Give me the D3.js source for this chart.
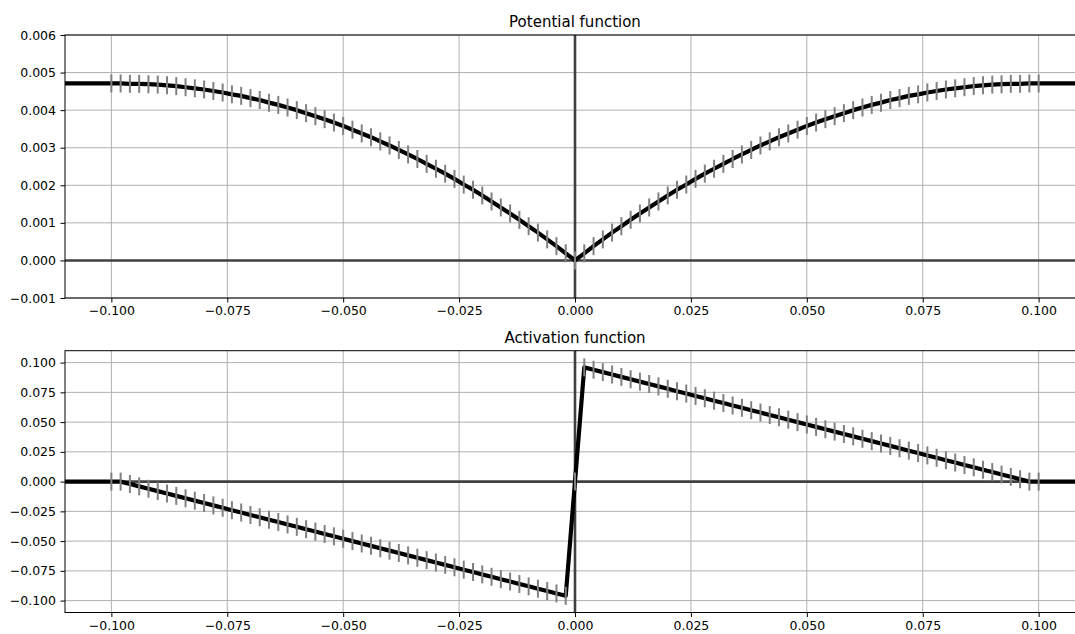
<!DOCTYPE html>
<html>
<head>
<meta charset="utf-8">
<script src="https://cdnjs.cloudflare.com/ajax/libs/d3/7.8.5/d3.min.js"></script>
<style>
    body { margin: 0; background: #fff; }
    svg { display: block; font-family: 'DejaVu Sans', sans-serif; }
</style>
</head>
<body>
<div id="chart"></div>
<script>
// sample points (x)
var x_values = [
    -0.110, -0.108, -0.106, -0.104, -0.102, -0.100, -0.098, -0.096, -0.094, -0.092,
    -0.090, -0.088, -0.086, -0.084, -0.082, -0.080, -0.078, -0.076, -0.074, -0.072,
    -0.070, -0.068, -0.066, -0.064, -0.062, -0.060, -0.058, -0.056, -0.054, -0.052,
    -0.050, -0.048, -0.046, -0.044, -0.042, -0.040, -0.038, -0.036, -0.034, -0.032,
    -0.030, -0.028, -0.026, -0.024, -0.022, -0.020, -0.018, -0.016, -0.014, -0.012,
    -0.010, -0.008, -0.006, -0.004, -0.002, 0.000,
    0.002, 0.004, 0.006, 0.008, 0.010, 0.012, 0.014, 0.016, 0.018, 0.020,
    0.022, 0.024, 0.026, 0.028, 0.030, 0.032, 0.034, 0.036, 0.038, 0.040,
    0.042, 0.044, 0.046, 0.048, 0.050, 0.052, 0.054, 0.056, 0.058, 0.060,
    0.062, 0.064, 0.066, 0.068, 0.070, 0.072, 0.074, 0.076, 0.078, 0.080,
    0.082, 0.084, 0.086, 0.088, 0.090, 0.092, 0.094, 0.096, 0.098, 0.100,
    0.102, 0.104, 0.106, 0.108, 0.110
];

// potential function values
var potential_values = [
    0.00471, 0.00471, 0.00471, 0.00471, 0.00471, 0.00471, 0.00471, 0.0047, 0.0047, 0.00469,
    0.00468, 0.00466, 0.00464, 0.00461, 0.00458, 0.00455, 0.00451, 0.00447, 0.00442, 0.00438,
    0.00432, 0.00427, 0.0042, 0.00414, 0.00407, 0.004, 0.00392, 0.00384, 0.00376, 0.00367,
    0.00358, 0.00348, 0.00338, 0.00328, 0.00317, 0.00306, 0.00294, 0.00282, 0.0027, 0.00257,
    0.00244, 0.00231, 0.00217, 0.00202, 0.00188, 0.00173, 0.00157, 0.00141, 0.00125, 0.00108,
    0.00091, 0.00074, 0.00056, 0.00038, 0.00019, 0.0,
    0.00019, 0.00038, 0.00056, 0.00074, 0.00091, 0.00108, 0.00125, 0.00141, 0.00157, 0.00173,
    0.00188, 0.00202, 0.00217, 0.00231, 0.00244, 0.00257, 0.0027, 0.00282, 0.00294, 0.00306,
    0.00317, 0.00328, 0.00338, 0.00348, 0.00358, 0.00367, 0.00376, 0.00384, 0.00392, 0.004,
    0.00407, 0.00414, 0.0042, 0.00427, 0.00432, 0.00438, 0.00442, 0.00447, 0.00451, 0.00455,
    0.00458, 0.00461, 0.00464, 0.00466, 0.00468, 0.00469, 0.0047, 0.0047, 0.00471, 0.00471,
    0.00471, 0.00471, 0.00471, 0.00471, 0.00471
];

// activation function values
var activation_values = [
    0, 0, 0, 0, 0, 0, 0, -0.002, -0.004, -0.006,
    -0.008, -0.010, -0.012, -0.014, -0.016, -0.018, -0.020, -0.022, -0.024, -0.026,
    -0.028, -0.030, -0.032, -0.034, -0.036, -0.038, -0.040, -0.042, -0.044, -0.046,
    -0.048, -0.050, -0.052, -0.054, -0.056, -0.058, -0.060, -0.062, -0.064, -0.066,
    -0.068, -0.070, -0.072, -0.074, -0.076, -0.078, -0.080, -0.082, -0.084, -0.086,
    -0.088, -0.090, -0.092, -0.094, -0.096, 0,
    0.096, 0.094, 0.092, 0.090, 0.088, 0.086, 0.084, 0.082, 0.080, 0.078,
    0.076, 0.074, 0.072, 0.070, 0.068, 0.066, 0.064, 0.062, 0.060, 0.058,
    0.056, 0.054, 0.052, 0.050, 0.048, 0.046, 0.044, 0.042, 0.040, 0.038,
    0.036, 0.034, 0.032, 0.030, 0.028, 0.026, 0.024, 0.022, 0.020, 0.018,
    0.016, 0.014, 0.012, 0.010, 0.008, 0.006, 0.004, 0.002, 0.000, 0,
    0, 0, 0, 0, 0
];

// tick labels
var x_ticks          = [-0.100, -0.075, -0.050, -0.025, 0.000, 0.025, 0.050, 0.075, 0.100];
var potential_ticks  = [-0.001, 0.000, 0.001, 0.002, 0.003, 0.004, 0.005, 0.006];
var activation_ticks = [-0.100, -0.075, -0.050, -0.025, 0.000, 0.025, 0.050, 0.075, 0.100];
var titles           = ['Potential function', 'Activation function'];

// Create SVG Element
var chart_width  = 1075;
var chart_height = 634;
var svg = d3.select( '#chart' )
    .append( 'svg' )
    .attr( 'width', chart_width )
    .attr( 'height', chart_height );

var fmt = d3.format( '.3f' );

function draw_panel( top, bottom, y_domain, y_ticks, y_values, title ){
    var left  = 65;
    var right = 1085;

    var x_scale = d3.scaleLinear()
        .domain([-0.11, 0.11])
        .range([left, right]);
    var y_scale = d3.scaleLinear()
        .domain(y_domain)
        .range([bottom, top]);

    var g = svg.append( 'g' );

    // grid
    g.selectAll( '.gx' )
        .data( x_ticks )
        .enter()
        .append( 'line' )
        .attr( 'x1', function(d){ return x_scale(d); } )
        .attr( 'x2', function(d){ return x_scale(d); } )
        .attr( 'y1', top )
        .attr( 'y2', bottom )
        .attr( 'stroke', '#b0b0b0' )
        .attr( 'stroke-width', 1 );
    g.selectAll( '.gy' )
        .data( y_ticks )
        .enter()
        .append( 'line' )
        .attr( 'x1', left )
        .attr( 'x2', right )
        .attr( 'y1', function(d){ return y_scale(d); } )
        .attr( 'y2', function(d){ return y_scale(d); } )
        .attr( 'stroke', '#b0b0b0' )
        .attr( 'stroke-width', 1 );

    // zero lines
    g.append( 'line' )
        .attr( 'x1', left )
        .attr( 'x2', right )
        .attr( 'y1', y_scale(0) )
        .attr( 'y2', y_scale(0) )
        .attr( 'stroke', '#404040' )
        .attr( 'stroke-width', 2.6 );
    g.append( 'line' )
        .attr( 'x1', x_scale(0) )
        .attr( 'x2', x_scale(0) )
        .attr( 'y1', top )
        .attr( 'y2', bottom )
        .attr( 'stroke', '#404040' )
        .attr( 'stroke-width', 2.6 );

    var points = x_values.map(function( x, i ){
        return { x: x, y: y_values[i] };
    });

    // curve
    var line = d3.line()
        .x(function(d){ return x_scale(d.x); })
        .y(function(d){ return y_scale(d.y); });
    g.append( 'path' )
        .datum( points )
        .attr( 'd', line )
        .attr( 'fill', 'none' )
        .attr( 'stroke', '#000' )
        .attr( 'stroke-width', 4.2 )
        .attr( 'stroke-linejoin', 'round' );

    // vertical markers
    g.selectAll( '.mark' )
        .data( points.filter(function(d){ return Math.abs(d.x) <= 0.1001; }) )
        .enter()
        .append( 'line' )
        .attr( 'x1', function(d){ return x_scale(d.x); } )
        .attr( 'x2', function(d){ return x_scale(d.x); } )
        .attr( 'y1', function(d){ return y_scale(d.y) - 9; } )
        .attr( 'y2', function(d){ return y_scale(d.y) + 9; } )
        .attr( 'stroke', '#808080' )
        .attr( 'stroke-width', 2 );

    // spines
    g.append( 'rect' )
        .attr( 'x', left )
        .attr( 'y', top )
        .attr( 'width', right - left )
        .attr( 'height', bottom - top )
        .attr( 'fill', 'none' )
        .attr( 'stroke', '#000' )
        .attr( 'stroke-width', 1 );

    // axes
    var x_axis = d3.axisBottom( x_scale )
        .tickValues( x_ticks )
        .tickFormat( fmt )
        .tickSize( 4.5 )
        .tickPadding( 4 )
        .tickSizeOuter( 0 );
    var y_axis = d3.axisLeft( y_scale )
        .tickValues( y_ticks )
        .tickFormat( fmt )
        .tickSize( 4.5 )
        .tickPadding( 4.5 )
        .tickSizeOuter( 0 );

    var xa = g.append( 'g' )
        .attr( 'transform', 'translate(0,' + bottom + ')' )
        .call( x_axis );
    var ya = g.append( 'g' )
        .attr( 'transform', 'translate(' + left + ',0)' )
        .call( y_axis );

    [xa, ya].forEach(function( a ){
        a.select( '.domain' ).remove();
        a.selectAll( 'text' )
            .attr( 'font-size', 12.5 )
            .attr( 'font-family', 'DejaVu Sans' )
            .attr( 'fill', '#000' );
        a.selectAll( 'line' )
            .attr( 'stroke', '#000' )
            .attr( 'stroke-width', 1 );
    });

    // title
    g.append( 'text' )
        .text( title )
        .attr( 'x', (left + right) / 2 )
        .attr( 'y', top - 8 )
        .attr( 'font-size', 15 )
        .attr( 'fill', '#000' )
        .attr( 'text-anchor', 'middle' );
}

draw_panel( 35, 298, [-0.001, 0.006], potential_ticks, potential_values, titles[0] );
draw_panel( 350.7, 612.5, [-0.11, 0.11], activation_ticks, activation_values, titles[1] );
</script>
</body>
</html>
